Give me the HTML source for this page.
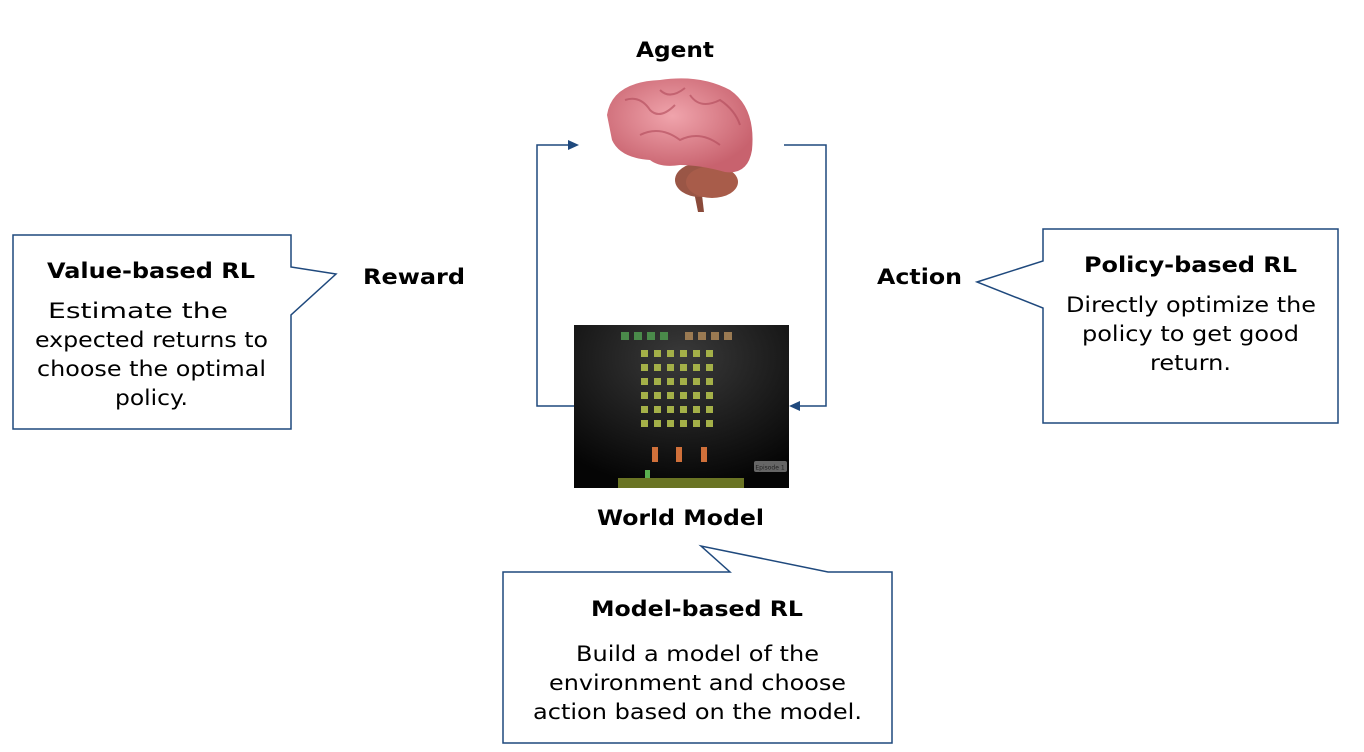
<!DOCTYPE html>
<html><head><meta charset="utf-8"><style>
html,body{margin:0;padding:0;background:#fff;}
svg text{font-family:"DejaVu Sans","Liberation Sans",sans-serif;fill:#000;}
.b{font-weight:bold;font-size:21px;}
.t{font-size:21px;}
</style></head><body>
<svg width="1364" height="747" viewBox="0 0 1364 747" xmlns="http://www.w3.org/2000/svg">
<defs>
<radialGradient id="bg" cx="0.5" cy="0.2" r="0.8"><stop offset="0" stop-color="#3a3a3a"/><stop offset="1" stop-color="#050505"/></radialGradient>
<radialGradient id="br" cx="0.45" cy="0.4" r="0.6"><stop offset="0" stop-color="#f0a4ac"/><stop offset="1" stop-color="#c8626e"/></radialGradient>
</defs>
<g fill="none" stroke="#1f497d" stroke-width="1.5">
<path d="M13,235 H291 V267 L336,274 L291,315 V429 H13 Z"/>
<path d="M1043,229 H1338 V423 H1043 V308 L977,282 L1043,261 Z"/>
<path d="M503,572 H730 L701,546 L828,572 H892 V743 H503 Z"/>
<path d="M784,145 H826 V406 H797"/>
<path d="M574,406 H537 V145 H570"/>
</g>
<polygon points="789,406 800,401 800,411" fill="#1f497d"/>
<polygon points="579,145 568,140 568,150" fill="#1f497d"/>
<!-- brain -->
<path d="M700,178 L704,212 L698,212 L692,182 Z" fill="#8a4a3a"/>
<ellipse cx="700" cy="180" rx="25" ry="17" fill="#9a5646"/>
<ellipse cx="712" cy="182" rx="26" ry="16" fill="#a85c4a"/>
<path d="M607,115 Q612,82 660,80 Q700,74 730,90 Q756,108 752,150 Q748,175 725,172 Q700,165 680,165 Q660,168 650,160 Q620,158 612,140 Z" fill="url(#br)"/>
<g stroke="#b14a5a" stroke-width="2" fill="none" opacity="0.6">
<path d="M625,100 Q640,95 650,110 Q660,120 675,105"/><path d="M690,95 Q700,110 720,100 Q735,110 740,125"/>
<path d="M640,135 Q660,125 680,140 Q700,130 720,145"/><path d="M660,90 Q670,100 685,88"/>
</g>
<!-- game -->
<rect x="574" y="325" width="215" height="163" fill="url(#bg)"/>
<g fill="#4a8a4a"><rect x="621" y="332" width="8" height="8"/><rect x="634" y="332" width="8" height="8"/><rect x="647" y="332" width="8" height="8"/><rect x="660" y="332" width="8" height="8"/></g>
<g fill="#9a7a52"><rect x="685" y="332" width="8" height="8"/><rect x="698" y="332" width="8" height="8"/><rect x="711" y="332" width="8" height="8"/><rect x="724" y="332" width="8" height="8"/></g>
<g fill="#a4b048">
<g id="row"><rect x="641" y="350" width="7" height="7"/><rect x="654" y="350" width="7" height="7"/><rect x="667" y="350" width="7" height="7"/><rect x="680" y="350" width="7" height="7"/><rect x="693" y="350" width="7" height="7"/><rect x="706" y="350" width="7" height="7"/></g>
<use href="#row" y="14"/><use href="#row" y="28"/><use href="#row" y="42"/><use href="#row" y="56"/><use href="#row" y="70"/>
</g>
<g fill="#d0703a"><rect x="652" y="447" width="6" height="15"/><rect x="676" y="447" width="6" height="15"/><rect x="701" y="447" width="6" height="15"/></g>
<rect x="754" y="461" width="33" height="11" rx="2" fill="#666"/>
<text x="770" y="469.5" font-size="6" text-anchor="middle" style="fill:#222">Episode 1</text>
<rect x="618" y="478" width="126" height="10" fill="#6a7424"/>
<rect x="645" y="470" width="5" height="8" fill="#5ab050"/>
<!-- labels -->
<text class="b" x="636" y="57" textLength="78" lengthAdjust="spacingAndGlyphs">Agent</text>
<text class="b" x="597" y="525" textLength="167" lengthAdjust="spacingAndGlyphs">World Model</text>
<text class="b" x="363" y="284" textLength="102" lengthAdjust="spacingAndGlyphs">Reward</text>
<text class="b" x="877" y="284" textLength="85" lengthAdjust="spacingAndGlyphs">Action</text>
<text class="b" x="47" y="278" textLength="208" lengthAdjust="spacingAndGlyphs">Value-based RL</text>
<text class="t" x="48" y="318" textLength="180" lengthAdjust="spacingAndGlyphs">Estimate the</text>
<text class="t" x="35" y="347" textLength="233" lengthAdjust="spacingAndGlyphs">expected returns to</text>
<text class="t" x="37" y="376" textLength="229" lengthAdjust="spacingAndGlyphs">choose the optimal</text>
<text class="t" x="115" y="405" textLength="73" lengthAdjust="spacingAndGlyphs">policy.</text>
<text class="b" x="1084" y="272" textLength="213" lengthAdjust="spacingAndGlyphs">Policy-based RL</text>
<text class="t" x="1066" y="312" textLength="250" lengthAdjust="spacingAndGlyphs">Directly optimize the</text>
<text class="t" x="1082" y="341" textLength="217" lengthAdjust="spacingAndGlyphs">policy to get good</text>
<text class="t" x="1150" y="370" textLength="81" lengthAdjust="spacingAndGlyphs">return.</text>
<text class="b" x="591" y="616" textLength="212" lengthAdjust="spacingAndGlyphs">Model-based RL</text>
<text class="t" x="576" y="661" textLength="243" lengthAdjust="spacingAndGlyphs">Build a model of the</text>
<text class="t" x="549" y="690" textLength="297" lengthAdjust="spacingAndGlyphs">environment and choose</text>
<text class="t" x="533" y="719" textLength="329" lengthAdjust="spacingAndGlyphs">action based on the model.</text>
</svg>
</body></html>
